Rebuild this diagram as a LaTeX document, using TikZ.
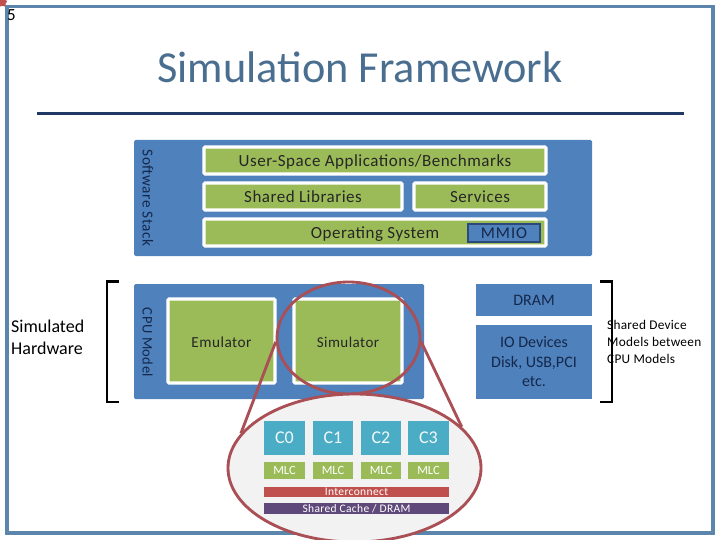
\documentclass[tikz,border=0pt]{standalone}
\usepackage{fontspec}
\setmainfont{Carlito}
\usepackage{xcolor}
\usetikzlibrary{shapes.geometric}
\definecolor{framecol}{HTML}{5B85AA}
\definecolor{rulecol}{HTML}{1F3864}
\definecolor{titlecol}{HTML}{4A6E90}
\definecolor{panelcol}{HTML}{4F81BD}
\definecolor{greencol}{HTML}{9BBB59}
\definecolor{cyancol}{HTML}{4BACC6}
\definecolor{redcol}{HTML}{C0504D}
\definecolor{purplecol}{HTML}{5F497A}
\definecolor{ringcol}{HTML}{A94F55}
\definecolor{navytext}{HTML}{14284B}
\tikzset{
    panelnode/.style = {draw=none, fill=panelcol, rectangle, rounded corners=0.15em, inner sep=0em, outer sep=0em},
    layernode/.style = {draw=white, line width=1.1mm, fill=greencol, rectangle, rounded corners=0.1em, inner sep=0em,
      text height=13.5pt, text depth=1pt,
      font=\fontsize{17}{20}\selectfont\addfontfeature{LetterSpace=3}, text=black!85},
    devicenode/.style = {draw=none, fill=panelcol, rectangle, inner sep=0em, text=navytext, align=center,
      font=\fontsize{16}{19.5}\selectfont},
    corenode/.style = {draw=none, fill=cyancol, rectangle, inner sep=0em, minimum height=34pt, text=white!92!cyancol,
      font=\fontsize{18}{20}\selectfont},
    cachenode/.style = {draw=none, fill=greencol, rectangle, inner sep=0em, minimum height=17pt, text=white,
      font=\fontsize{12.5}{14}\selectfont},
    barnode/.style = {draw=none, rectangle, inner sep=0em, minimum width=185pt, text=white,
      font=\fontsize{11.5}{12}\selectfont\addfontfeature{LetterSpace=3}},
    textnode/.style = {draw=none, fill=none, inner sep=0em, font=\fontsize{15}{22}\selectfont},
    ringnode/.style = {draw=ringcol, ellipse, line width=1mm, inner sep=0em},
    bracket/.style = {draw=black, line width=0.75mm},
    connect/.style = {draw=ringcol, line width=1mm}
}
\begin{document}
\begin{tikzpicture}[x=1pt, y=-1pt]
    \useasboundingbox (0,0) rectangle (720,540);
    \fill[white] (0,0) rectangle (720,540);
    \draw[draw=framecol, line width=1.4mm] (7,6.5) rectangle (713,533);
    \node [name=marker, star, fill=redcol, star points=5, minimum size=10pt, inner sep=0em] at (2.5,2.5) {};
    \node [name=page, textnode, text=black, font=\fontsize{17}{18}\selectfont] at (11.5,15.5) {5};

    \node [name=title, textnode, text=titlecol, font=\fontsize{44.3}{50}\selectfont] at (360,67) {Simulation Framework};
    \draw[draw=rulecol, line width=1mm] (37,113.5) -- (684,113.5);

    % software stack
    \node [name=swpanel, panelnode, minimum width=458pt, minimum height=116pt] at (363,198) {};
    \node [name=swlabel, textnode, text=navytext, rotate=-90, font=\fontsize{15.3}{16}\selectfont\addfontfeature{LetterSpace=3}] at (148,198) {Software Stack};
    \node [name=apps, layernode, minimum width=342pt, minimum height=27pt] at (375,160.5) {User-Space Applications/Benchmarks};
    \node [name=libs, layernode, minimum width=198pt, minimum height=27pt] at (303,196.5) {Shared Libraries};
    \node [name=services, layernode, minimum width=132pt, minimum height=27pt] at (480,196.5) {Services};
    \node [name=os, layernode, minimum width=342pt, minimum height=27pt] at (375,232.5) {Operating System};
    \node [name=mmio, draw=rulecol!75!panelcol, line width=0.6mm, fill=panelcol, rectangle, inner sep=0em, minimum width=72pt, minimum height=18pt,
      text=navytext, font=\fontsize{16.5}{18}\selectfont\addfontfeature{LetterSpace=6}] at (504,233) {MMIO};

    % cpu model
    \node [name=cpupanel, panelnode, minimum width=290pt, minimum height=115pt] at (279,341.5) {};
    \node [name=cpulabel, textnode, text=navytext, rotate=-90, font=\fontsize{14.5}{16}\selectfont\addfontfeature{LetterSpace=3}] at (147.5,342.5) {CPU Model};
    \node [name=emulator, layernode, minimum width=107pt, minimum height=84pt, font=\fontsize{15.3}{16}\selectfont\addfontfeature{LetterSpace=3}] at (221.5,341) {Emulator};
    \node [name=simulator, layernode, minimum width=108pt, minimum height=84pt, font=\fontsize{15}{16}\selectfont\addfontfeature{LetterSpace=3}] at (348,341) {Simulator};
    \node [name=dram, devicenode, minimum width=116pt, minimum height=32pt] at (534,300) {DRAM};
    \node [name=io, devicenode, minimum width=116pt, minimum height=74pt] at (534,362) {IO Devices\\Disk, USB,PCI\\etc.};

    % zoomed cores
    \node [name=simring, ringnode, minimum width=143pt, minimum height=112pt] at (348.5,338) {};
    \node [name=zoomring, ringnode, fill=black!5, minimum width=253pt, minimum height=148pt] at (354.5,468) {};
    \draw[connect] (simring.183) -- (zoomring.163);
    \draw[connect] (simring.357) -- (zoomring.21);
    \node [name=c0, corenode, minimum width=41pt] at (284.5,438) {C0};
    \node [name=c1, corenode, minimum width=40pt] at (333,438) {C1};
    \node [name=c2, corenode, minimum width=40pt] at (381,438) {C2};
    \node [name=c3, corenode, minimum width=41pt] at (428.5,438) {C3};
    \node [name=mlc0, cachenode, minimum width=41pt] at (284.5,470.5) {MLC};
    \node [name=mlc1, cachenode, minimum width=40pt] at (333,470.5) {MLC};
    \node [name=mlc2, cachenode, minimum width=40pt] at (381,470.5) {MLC};
    \node [name=mlc3, cachenode, minimum width=41pt] at (428.5,470.5) {MLC};
    \node [name=noc, barnode, fill=redcol, minimum height=10pt] at (356.5,492) {Interconnect};
    \node [name=llc, barnode, fill=purplecol, minimum height=11pt] at (356.5,508.5) {Shared Cache / DRAM};

    % brackets
    \draw[bracket] (119,281.5) -- (107,281.5) -- (107,402) -- (119,402);
    \draw[bracket] (600,281.5) -- (612,281.5) -- (612,402) -- (600,402);
    \node [name=hwlabel, textnode, text=black, anchor=west, align=left, font=\fontsize{18}{22}\selectfont] at (11,337) {Simulated\\Hardware};
    \node [name=sharedlabel, textnode, text=black, anchor=west, align=left, font=\fontsize{13.3}{17}\selectfont\addfontfeature{LetterSpace=2}] at (607,342) {Shared Device\\Models between\\CPU Models};
\end{tikzpicture}
\end{document}
